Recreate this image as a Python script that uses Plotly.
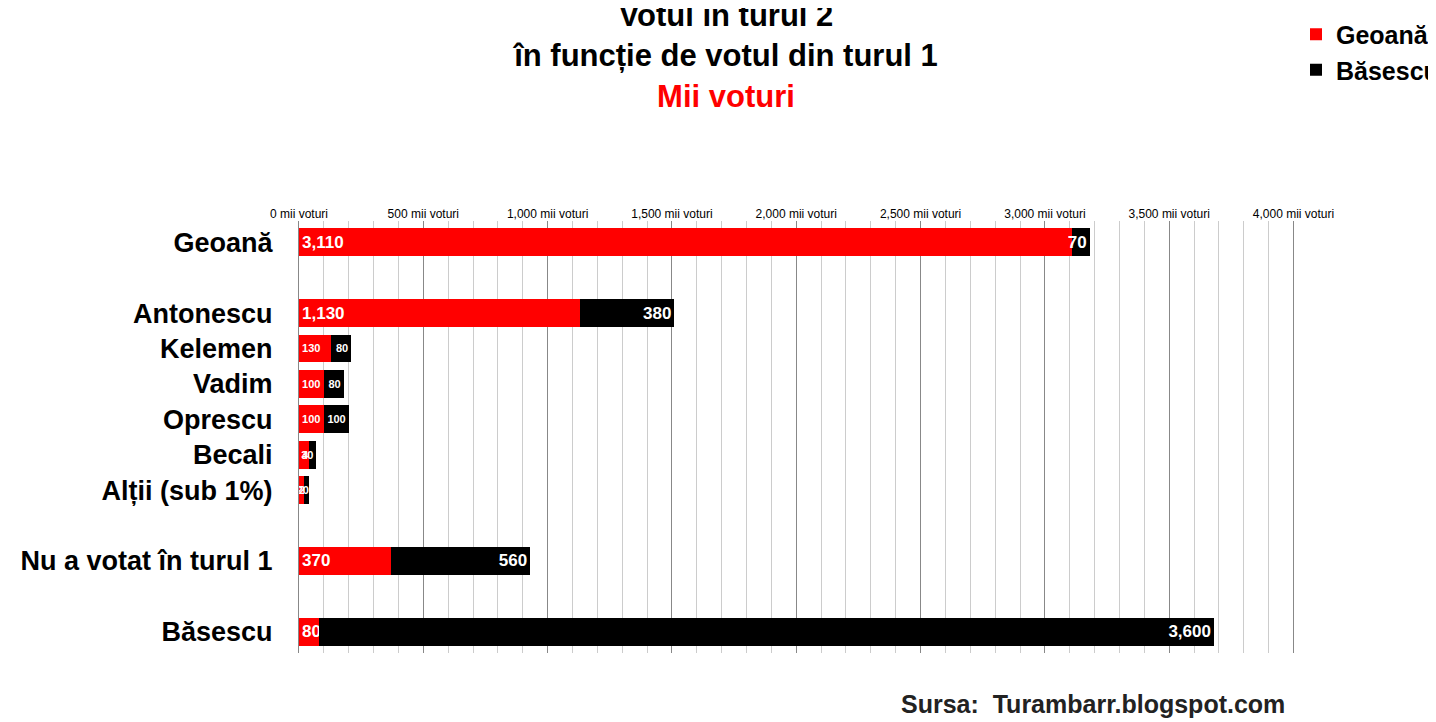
import plotly.graph_objects as go

categories = ["Geoană", "Antonescu", "Kelemen", "Vadim", "Oprescu", "Becali", "Alții (sub 1%)", "Nu a votat în turul 1", "Băsescu"]
geoana = [3110, 1130, 130, 100, 100, 40, 20, 370, 80]
basescu = [70, 380, 80, 80, 100, 30, 20, 560, 3600]
tick_vals = [0, 500, 1000, 1500, 2000, 2500, 3000, 3500, 4000]
tick_text = [f"{v:,} mii voturi" for v in tick_vals]

ypos = [0, 2, 3, 4, 5, 6, 7, 9, 11]
big = [17 if v >= 200 or i in (0, 8) else 11 for i, v in enumerate(geoana)]
bigb = [17 if v >= 200 or i in (0, 8) else 11 for i, v in enumerate(basescu)]

fig = go.Figure()
fig.add_trace(go.Bar(y=ypos, x=geoana, orientation="h", name="<b>Geoană</b>", marker_color="#ff0000",
                     text=[f"<b>{v:,}</b>" for v in geoana], textposition="inside", insidetextanchor="start",
                     textangle=0, textfont=dict(color="white", size=big, family="Liberation Sans, Arial"),
                     width=0.78, constraintext="none", marker_line_width=0))
fig.add_trace(go.Bar(y=ypos, x=basescu, orientation="h", name="<b>Băsescu</b>", marker_color="#000000",
                     text=[f"<b>{v:,}</b>" for v in basescu], textposition="inside", insidetextanchor="end",
                     textangle=0, textfont=dict(color="white", size=bigb, family="Liberation Sans, Arial"),
                     width=0.78, constraintext="none", marker_line_width=0))
fig.update_layout(
    barmode="stack", width=1436, height=722, plot_bgcolor="white", paper_bgcolor="white",
    margin=dict(l=291, r=46, t=213, b=77),
    font=dict(family="Liberation Sans, Arial", color="black"),
    title=dict(text="<b>Votul în turul 2<br>în funcție de votul din turul 1<br><span style='color:#ff0000'>Mii voturi</span></b>",
               x=(718 - 0) / 1436, xref="paper", xanchor="center", y=0.975, yanchor="top",
               font=dict(size=31)),
    legend=dict(x=1.0, xanchor="right", xref="container", y=0.995, yref="container", yanchor="top",
                font=dict(size=25, color="black"), traceorder="normal",
                itemsizing="constant", bgcolor="rgba(0,0,0,0)", itemwidth=30),
    xaxis=dict(side="top", range=[0, 4010], tickvals=tick_vals, ticktext=tick_text, tickfont=dict(size=12),
               showgrid=True, gridcolor="#888888", gridwidth=1, zeroline=False, ticks="", automargin=False,
               minor=dict(dtick=100, showgrid=True, gridcolor="#cccccc", tick0=0)),
    yaxis=dict(range=[11.6, -0.6], tickvals=ypos, ticktext=[f"<b>{c}</b>" for c in categories],
               tickfont=dict(size=27), showgrid=False, zeroline=False, ticks="", showline=True,
               linecolor="#888888", ticklabelstandoff=20, automargin=False),
)
fig.update_layout(title_x=0.5, title_xref="container")
fig.add_annotation(text="<b>Sursa:  Turambarr.blogspot.com</b>", xref="paper", yref="paper",
                   x=(1380-291)/(1436-291-46), y=-0.08, xanchor="right", yanchor="top", showarrow=False,
                   font=dict(size=25, color="#222222"))
fig.write_html("out.html")
